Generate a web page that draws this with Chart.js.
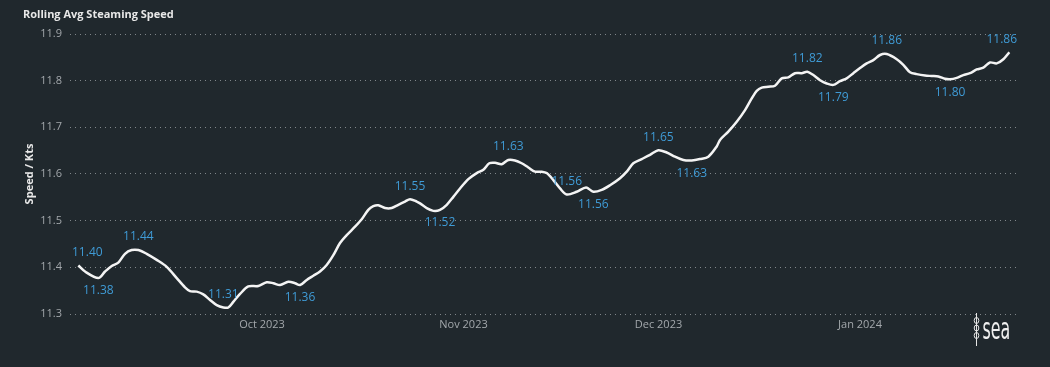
<!DOCTYPE html>
<html><head><meta charset="utf-8">
<script src="https://cdn.jsdelivr.net/npm/chart.js@4.4.1/dist/chart.umd.min.js"></script>
<style>html,body{margin:0;padding:0;background:#20282d;}canvas{display:block;}</style>
</head><body>
<canvas id="c" width="1050" height="367"></canvas>
<script>
// days since 2023-09-01 (positions)
const dayOffsets = [1.74,2.77,4.82,5.85,6.88,7.89,8.92,9.95,10.97,12.26,
13.8,15.34,16.88,18.15,18.92,19.95,20.97,22,23.03,24.05,
24.82,25.58,26.62,27.89,29.43,30.72,31.74,32.77,34.05,35.08,
35.85,36.88,37.89,38.92,39.95,40.97,42,43.03,44.31,45.34,
46.35,47.12,47.89,48.92,49.95,50.97,52,52.77,53.8,54.31,
55.34,56.35,57.38,58.42,59.43,60.46,61.74,63.03,64.05,64.97,
65.85,66.88,67.89,68.92,69.95,70.97,72,73.03,73.8,74.82,
75.85,76.88,78.42,79.85,80.97,82.26,83.54,85.08,86.11,87.12,
88.42,89.69,90.97,92.26,93.54,94.82,96.11,97.38,98.66,99.95,
100.46,101.74,103.03,104.31,105.34,106.11,106.88,107.89,108.92,109.95,
110.97,112,113.03,113.89,114.82,115.85,116.88,117.89,118.92,119.95,
120.97,122,123.03,124.05,125.08,126.11,127.65,128.66,129.69,130.72,
132,133.03,134.05,135.08,135.85,136.88,137.89,138.92,139.95,140.97,
142,143.03,144.05,144.97];
const speeds = [11.404,11.391,11.377,11.391,11.403,11.410,11.429,11.437,11.437,11.429,
11.416,11.401,11.377,11.357,11.349,11.348,11.342,11.330,11.319,11.314,
11.314,11.326,11.343,11.359,11.360,11.368,11.366,11.362,11.369,11.366,
11.362,11.373,11.382,11.391,11.405,11.426,11.452,11.469,11.487,11.503,
11.523,11.531,11.533,11.527,11.527,11.534,11.541,11.546,11.541,11.537,
11.527,11.521,11.523,11.534,11.551,11.569,11.589,11.602,11.609,11.623,
11.624,11.621,11.630,11.629,11.623,11.614,11.605,11.605,11.602,11.587,
11.569,11.556,11.562,11.571,11.562,11.566,11.576,11.591,11.605,11.623,
11.632,11.641,11.651,11.646,11.637,11.630,11.629,11.632,11.637,11.659,
11.673,11.691,11.712,11.737,11.762,11.778,11.785,11.787,11.789,11.805,
11.807,11.816,11.816,11.819,11.812,11.801,11.794,11.791,11.799,11.805,
11.816,11.827,11.837,11.844,11.855,11.857,11.846,11.834,11.818,11.814,
11.811,11.810,11.809,11.804,11.803,11.806,11.812,11.816,11.824,11.828,
11.839,11.837,11.846,11.861];
const monthTickDays = [30,61,91,122];
const monthTickLabels = ['Oct 2023','Nov 2023','Dec 2023','Jan 2024'];
const labelIdx = [0,2,8,19,30,47,52,62,71,74,82,86,103,107,115,124,133];
const labelPos = ['above','below','above','above','below','above','below','above','above','below','above','below','above','below','above','below','above'];
const chartTitle = 'Rolling Avg Steaming Speed';
const yTitle = 'Speed / Kts';
const logoText = 'sea';

const FONT = '"Segoe UI","Open Sans",sans-serif';

const bgPlugin = {id:'bg', beforeDraw(chart){const c=chart.ctx;c.save();c.fillStyle='#20282d';c.fillRect(0,0,chart.width,chart.height);c.restore();}};
const titlePlugin = {id:'ttl', afterDraw(chart){const c=chart.ctx;c.save();c.font='bold 11px '+FONT;c.fillStyle='#e8e8e8';c.textBaseline='alphabetic';c.textAlign='left';c.fillText(chartTitle,23,18);c.restore();}};
const dataLabelPlugin = {id:'dl', afterDatasetsDraw(chart){
  const meta=chart.getDatasetMeta(0), c=chart.ctx, a=chart.chartArea;
  c.save(); c.font='12px '+FONT; c.fillStyle='#3f9bd6'; c.textAlign='center'; c.textBaseline='middle';
  labelIdx.forEach((i,k)=>{
    const p=meta.data[i]; const t=speeds[i].toFixed(2); const w=c.measureText(t).width;
    const x=Math.min(Math.max(p.x,a.left+w/2+2),a.right-w/2);
    const y=labelPos[k]==='above'?p.y-13:p.y+13;
    c.fillText(t,x,y);
  });
  c.restore();
}};
const logoPlugin = {id:'logo', afterDraw(chart){
  const c=chart.ctx; c.save();
  c.strokeStyle='#e6e6e6'; c.lineWidth=1;
  c.beginPath(); c.moveTo(976.5,313); c.lineTo(976.5,346); c.stroke();
  [320.5,328,335.5].forEach(cy=>{c.beginPath(); c.ellipse(976.5,cy,2.3,3,0,0,Math.PI*2); c.stroke();});
  c.font='40px "DejaVu Sans Condensed","DejaVu Sans",sans-serif';
  const m=c.measureText(logoText);
  const h=m.actualBoundingBoxAscent+m.actualBoundingBoxDescent, w=m.actualBoundingBoxRight+m.actualBoundingBoxLeft;
  c.translate(983,322); c.scale(26/w,18/h); c.fillStyle='#f0f0f0'; c.textAlign='left'; c.textBaseline='alphabetic';
  c.fillText(logoText,m.actualBoundingBoxLeft,m.actualBoundingBoxAscent);
  c.restore();
}};

new Chart(document.getElementById('c'), {
  type:'line',
  data:{datasets:[{data:dayOffsets.map((d,i)=>({x:d,y:speeds[i]})), borderColor:'#f4f4f4', borderWidth:2.5, pointRadius:0, tension:0.3, fill:false}]},
  options:{
    responsive:false, animation:false, devicePixelRatio:1,
    layout:{padding:{left:0,top:34,right:33,bottom:23}},
    plugins:{legend:{display:false}, tooltip:{enabled:false}, title:{display:false}},
    scales:{
      x:{type:'linear', min:0.46, max:146.15,
         afterBuildTicks:s=>{s.ticks=monthTickDays.map(v=>({value:v}));},
         afterFit:s=>{s.height=30;},
         grid:{display:false, drawTicks:false}, border:{display:false},
         ticks:{padding:4, color:'#a3a8ac', font:{family:FONT,size:11}, autoSkip:false, maxRotation:0,
                callback:(v)=>{const i=monthTickDays.indexOf(v);return i>=0?monthTickLabels[i]:'';}}},
      y:{min:11.3, max:11.9,
         afterFit:s=>{s.width=70;},
         ticks:{stepSize:0.1, padding:8, color:'#a3a8ac', font:{family:FONT,size:11}, callback:v=>Number(v).toFixed(1)},
         grid:{color:'rgba(160,165,170,0.75)', drawTicks:false, lineWidth:1},
         border:{display:false, dash:[1,4]},
         title:{display:true, text:yTitle, color:'#e8e8e8', font:{family:FONT,size:11,weight:'bold'}, padding:{top:23,bottom:0}}}
    }
  },
  plugins:[bgPlugin,titlePlugin,dataLabelPlugin,logoPlugin]
});
</script>
</body></html>
